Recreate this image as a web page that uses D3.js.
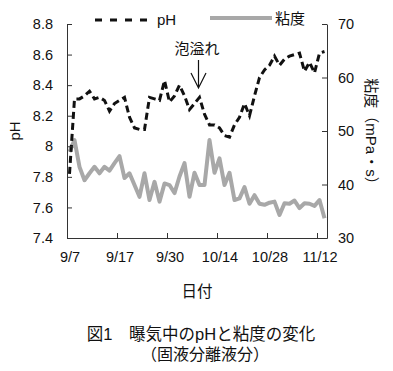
<!DOCTYPE html>
<meta charset="utf-8">
<body style="margin:0;background:#fff">
<style>
    text { font-family: "Liberation Sans", "Noto Sans CJK JP", sans-serif; fill: #111; }
    .ph { fill: none; stroke: #111; stroke-width: 3px; stroke-dasharray: 7,4; }
    .visc { fill: none; stroke: #a8a8a8; stroke-width: 4px; stroke-linejoin: round; }
    .axis path, .axis line { stroke: #333; }
</style>
<script src="https://d3js.org/d3.v7.min.js"></script>
<script>
// category labels every 10 samples
var tickIdx = [0, 10, 20, 30, 40, 50];
var tickLabels = ["9/7", "9/17", "9/30", "10/14", "10/28", "11/12"];

// pH (left axis)
var phValues = [7.82, 8.31, 8.31, 8.33, 8.36, 8.31, 8.32, 8.30, 8.23, 8.28,
                8.30, 8.32, 8.19, 8.12, 8.11, 8.11, 8.32, 8.31, 8.30, 8.43,
                8.29, 8.33, 8.40, 8.33, 8.24, 8.28, 8.32, 8.21, 8.14, 8.14,
                8.12, 8.07, 8.06, 8.14, 8.19, 8.28, 8.20, 8.33, 8.45, 8.50,
                8.53, 8.59, 8.53, 8.57, 8.59, 8.60, 8.61, 8.49, 8.55, 8.48,
                8.61, 8.62];

// viscosity mPa·s (right axis)
var viscValues = [46.1, 48.3, 43.3, 40.8, 42.1, 43.3, 42.1, 43.3, 42.6, 44.0,
                  45.3, 41.2, 42.1, 39.9, 37.7, 42.1, 37.1, 40.5, 36.8, 40.2,
                  39.9, 38.4, 41.5, 44.0, 37.7, 42.2, 39.9, 39.9, 48.3, 42.2,
                  44.9, 39.9, 42.2, 37.1, 37.4, 39.5, 36.4, 38.0, 36.4, 36.2,
                  36.6, 36.8, 34.3, 36.5, 36.4, 37.0, 35.6, 36.5, 36.4, 36.0,
                  37.1, 33.7];

var phTicks = [7.4, 7.6, 7.8, 8, 8.2, 8.4, 8.6, 8.8];
var viscTicks = [30, 40, 50, 60, 70];

var margin = {top: 24, right: 66, bottom: 133, left: 67},
    width = 393 - margin.left - margin.right,
    height = 371 - margin.top - margin.bottom;

var svg = d3.select("body").append("svg")
    .attr("width", 393).attr("height", 371);
var g = svg.append("g")
    .attr("transform", "translate(" + margin.left + "," + margin.top + ")");

var x = d3.scaleLinear().domain([-0.5, phValues.length - 0.5]).range([0, width]);
var y = d3.scaleLinear().domain([7.4, 8.8]).range([height, 0]);
var y2 = d3.scaleLinear().domain([30, 70]).range([height, 0]);

// viscosity line first, pH on top
g.append("path").datum(viscValues).attr("class", "visc")
    .attr("d", d3.line().x(function(d, i) { return x(i); }).y(function(d) { return y2(d); }));
g.append("path").datum(phValues).attr("class", "ph")
    .attr("d", d3.line().x(function(d, i) { return x(i); }).y(function(d) { return y(d); }));

// left axis
g.append("g").attr("class", "axis")
    .call(d3.axisLeft(y).tickValues(phTicks).tickSize(-5).tickSizeOuter(0).tickPadding(14)
        .tickFormat(function(d) { return d3.format("")(+d.toFixed(1)); }))
    .selectAll("text").style("font-size", "14.5px");

// right axis
g.append("g").attr("class", "axis")
    .attr("transform", "translate(" + width + ",0)")
    .call(d3.axisRight(y2).tickValues(viscTicks).tickSize(-5).tickSizeOuter(0).tickPadding(11))
    .selectAll("text").style("font-size", "14.5px");

// bottom axis: ticks between categories, labels on categories
g.append("g").attr("class", "axis")
    .attr("transform", "translate(0," + height + ")")
    .call(d3.axisBottom(x).tickValues(tickIdx.map(function(d) { return d - 0.5; }))
        .tickSize(-5).tickSizeOuter(0).tickFormat(""));
var xl = g.append("g")
    .attr("transform", "translate(0," + height + ")")
    .call(d3.axisBottom(x).tickValues(tickIdx).tickSize(0).tickPadding(14)
        .tickFormat(function(d, i) { return tickLabels[i]; }));
xl.select(".domain").remove();
xl.selectAll("text").style("font-size", "14.5px");

// axis titles
svg.append("text").attr("transform", "translate(20,131) rotate(-90)")
    .attr("text-anchor", "middle").style("font-size", "15px").text("pH");
svg.append("text").attr("transform", "translate(366,135) rotate(90)")
    .attr("text-anchor", "middle").style("font-size", "15px").text("粘度（mPa・s）");
svg.append("text").attr("x", 197).attr("y", 297)
    .attr("text-anchor", "middle").style("font-size", "15.5px").text("日付");

// legend
var lg = svg.append("g");
lg.append("line").attr("x1", 95).attr("x2", 151).attr("y1", 20).attr("y2", 20)
    .attr("class", "ph").style("stroke-dasharray", "7,8");
lg.append("text").attr("x", 157).attr("y", 25).style("font-size", "15px").text("pH");
lg.append("line").attr("x1", 210).attr("x2", 272).attr("y1", 18).attr("y2", 18)
    .attr("class", "visc");
lg.append("text").attr("x", 275).attr("y", 24).style("font-size", "15px").text("粘度");

// annotation
svg.append("text").attr("x", 197).attr("y", 54)
    .attr("text-anchor", "middle").style("font-size", "15px").text("泡溢れ");
svg.append("path").attr("d", "M198.5,60V88M191,73L198.5,88L206,73")
    .attr("fill", "none").attr("stroke", "#111").attr("stroke-width", 1.2);

// caption
svg.append("text").attr("x", 201).attr("y", 340)
    .attr("text-anchor", "middle").style("font-size", "16.5px").text("図1　曝気中のpHと粘度の変化");
svg.append("text").attr("x", 205).attr("y", 360)
    .attr("text-anchor", "middle").style("font-size", "16px").text("（固液分離液分）");
</script>
